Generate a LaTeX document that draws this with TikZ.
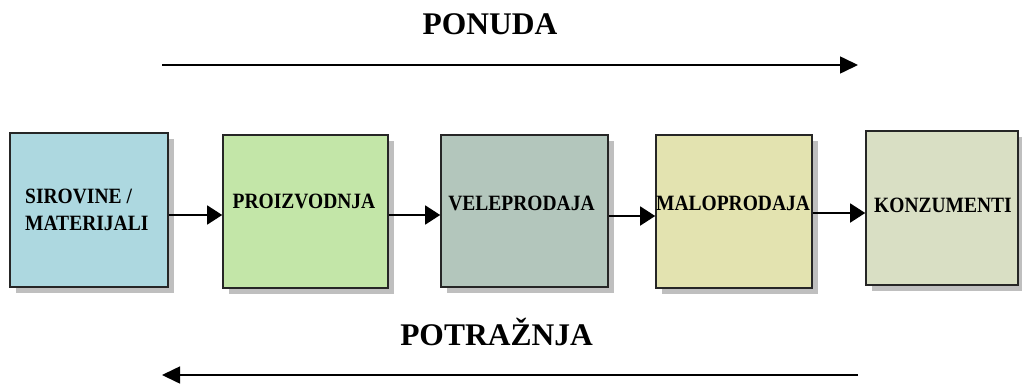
\documentclass[tikz,border=0pt]{standalone}
\usepackage{fontspec}
\setmainfont{Liberation Serif}
\usetikzlibrary{arrows.meta,shadows}
\definecolor{cA}{HTML}{ADD8E0}
\definecolor{cB}{HTML}{C3E6A8}
\definecolor{cC}{HTML}{B3C6BC}
\definecolor{cD}{HTML}{E3E3B0}
\definecolor{cE}{HTML}{D9DFC4}
\newcommand{\tallbox}[1]{\scalebox{1}[1.12]{#1}}
\begin{document}
\begin{tikzpicture}[x=1pt,y=-1pt,
  stagebox/.style={draw=black!85,line width=1.6pt,inner sep=0pt,
    drop shadow={shadow xshift=6pt,shadow yshift=-6pt,fill=black!25,opacity=1}},
  stagetext/.style={font=\fontsize{19.5}{27}\selectfont\bfseries,inner sep=0pt,align=left},
  flowarrow/.style={line width=1.5pt,-{Triangle[length=15pt,width=19pt]}},
  bigarrow/.style={line width=1.6pt,-{Triangle[length=18pt,width=17pt]}},
  title/.style={font=\fontsize{31.5}{32}\selectfont\bfseries,inner sep=0pt,anchor=base}]
\useasboundingbox (0,0) rectangle (1022,383);
\fill[white] (0,0) rectangle (1022,383);
% boxes
\node[stagebox,fill=cA,minimum width=158pt,minimum height=154pt] (b1) at (89,210) {};
\node[stagebox,fill=cB,minimum width=165pt,minimum height=153pt] (b2) at (305.5,211.5) {};
\node[stagebox,fill=cC,minimum width=167pt,minimum height=152pt] (b3) at (524.5,211) {};
\node[stagebox,fill=cD,minimum width=156pt,minimum height=153pt] (b4) at (734,211.5) {};
\node[stagebox,fill=cE,minimum width=152pt,minimum height=154pt] (b5) at (942,208) {};
% labels
\node[stagetext,anchor=west] (t1) at (25,210) {\tallbox{SIROVINE /}\\\tallbox{MATERIJALI}};
\node[stagetext,anchor=base] (t2) at (304,208) {\tallbox{PROIZVODNJA}};
\node[stagetext,anchor=base] (t3) at (521.5,210) {\tallbox{VELEPRODAJA}};
\node[stagetext,anchor=base] (t4) at (733,210) {\tallbox{MALOPRODAJA}};
\node[stagetext,anchor=base] (t5) at (943,212) {\tallbox{KONZUMENTI}};
% flow arrows
\draw[flowarrow] (b1.east |- 0,215) -- (b2.west |- 0,215);
\draw[flowarrow] (b2.east |- 0,215) -- (b3.west |- 0,215);
\draw[flowarrow] (b3.east |- 0,216) -- (b4.west |- 0,216);
\draw[flowarrow] (b4.east |- 0,213) -- (b5.west |- 0,213);
% top
\node[title] (ponuda) at (490,34) {PONUDA};
\coordinate (ps) at (162,65);
\coordinate (pe) at (858,65);
\draw[bigarrow] (ps) -- (pe);
% bottom
\node[title] (potraznja) at (496.5,345) {POTRAŽNJA};
\coordinate (ds) at (858,375);
\coordinate (de) at (162,375);
\draw[bigarrow] (ds) -- (de);
\end{tikzpicture}
\end{document}
